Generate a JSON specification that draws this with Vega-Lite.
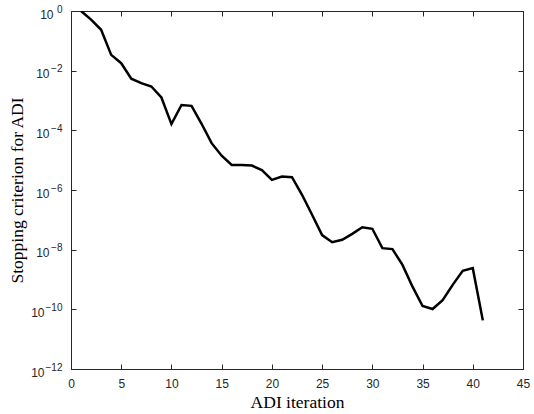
{
  "$schema": "https://vega.github.io/schema/vega-lite/v6.json",
  "autosize": "none",
  "width": 452,
  "height": 358,
  "padding": {"left": 71, "top": 11, "right": 11, "bottom": 45},
  "background": "white",
  "config": {
    "view": {"stroke": "#262626", "strokeWidth": 1},
    "axis": {
      "grid": false,
      "domain": false,
      "tickColor": "#262626",
      "tickSize": 5,
      "tickWidth": 1,
      "offset": -5,
      "labelFont": "Liberation Sans",
      "labelFontSize": 12,
      "labelColor": "#262626",
      "titleFont": "Liberation Serif",
      "titleFontSize": 17.5,
      "titleFontWeight": "normal",
      "titleColor": "#000000"
    }
  },
  "data": {
    "values": [
      {"it": 1, "v": -0.0},
      {"it": 2, "v": -0.29},
      {"it": 3, "v": -0.63},
      {"it": 4, "v": -1.47},
      {"it": 5, "v": -1.75},
      {"it": 6, "v": -2.27},
      {"it": 7, "v": -2.42},
      {"it": 8, "v": -2.53},
      {"it": 9, "v": -2.9},
      {"it": 10, "v": -3.79},
      {"it": 11, "v": -3.15},
      {"it": 12, "v": -3.18},
      {"it": 13, "v": -3.78},
      {"it": 14, "v": -4.43},
      {"it": 15, "v": -4.85},
      {"it": 16, "v": -5.16},
      {"it": 17, "v": -5.16},
      {"it": 18, "v": -5.18},
      {"it": 19, "v": -5.33},
      {"it": 20, "v": -5.66},
      {"it": 21, "v": -5.55},
      {"it": 22, "v": -5.57},
      {"it": 23, "v": -6.16},
      {"it": 24, "v": -6.83},
      {"it": 25, "v": -7.51},
      {"it": 26, "v": -7.75},
      {"it": 27, "v": -7.67},
      {"it": 28, "v": -7.47},
      {"it": 29, "v": -7.25},
      {"it": 30, "v": -7.3},
      {"it": 31, "v": -7.95},
      {"it": 32, "v": -7.98},
      {"it": 33, "v": -8.51},
      {"it": 34, "v": -9.24},
      {"it": 35, "v": -9.89},
      {"it": 36, "v": -9.99},
      {"it": 37, "v": -9.69},
      {"it": 38, "v": -9.18},
      {"it": 39, "v": -8.71},
      {"it": 40, "v": -8.62},
      {"it": 41, "v": -10.37}
    ]
  },
  "transform": [{"calculate": "pow(10, datum.v)", "as": "val"}],
  "encoding": {
    "x": {"field": "it", "type": "quantitative", "scale": {"domain": [0, 45], "nice": false, "zero": false}},
    "y": {"field": "val", "type": "quantitative", "scale": {"type": "log", "domain": [1e-12, 1], "nice": false}}
  },
  "layer": [
    {
      "mark": {"type": "line", "color": "#000000", "strokeWidth": 2.5, "strokeJoin": "miter", "clip": true},
      "encoding": {
        "x": {
          "field": "it", "type": "quantitative",
          "axis": {"orient": "bottom", "values": [0, 5, 10, 15, 20, 25, 30, 35, 40, 45], "title": "ADI iteration", "labelPadding": 9, "titlePadding": 4, "labelFlush": false}
        },
        "y": {
          "field": "val", "type": "quantitative",
          "axis": {
            "orient": "left",
            "values": [1e-12, 1e-10, 1e-8, 1e-6, 1e-4, 1e-2, 1],
            "title": null,
            "labelPadding": 9,
            "labelFontSize": 10,
            "labelOffset": -2,
            "labelFlush": false,
            "labelExpr": "format(round(log(datum.value)/LN10), 'd')"
          }
        }
      }
    },
    {
      "mark": {"type": "line", "opacity": 0},
      "encoding": {
        "x": {
          "field": "it", "type": "quantitative",
          "axis": {"orient": "top", "values": [0, 5, 10, 15, 20, 25, 30, 35, 40, 45], "labels": false, "title": null}
        },
        "y": {
          "field": "val", "type": "quantitative",
          "axis": {"orient": "right", "values": [1e-12, 1e-10, 1e-8, 1e-6, 1e-4, 1e-2, 1], "labels": false, "title": null}
        }
      }
    },
    {
      "mark": {"type": "line", "opacity": 0},
      "encoding": {
        "x": {"field": "it", "type": "quantitative", "axis": null},
        "y": {
          "field": "val", "type": "quantitative",
          "axis": {
            "orient": "left", "offset": 0, "values": [1], "ticks": false, "title": null,
            "labelPadding": 18, "labelOffset": 3, "labelFlush": false, "labelExpr": "'10'"
          }
        }
      }
    },
    {
      "mark": {"type": "line", "opacity": 0},
      "encoding": {
        "x": {"field": "it", "type": "quantitative", "axis": null},
        "y": {
          "field": "val", "type": "quantitative",
          "axis": {
            "orient": "left", "offset": 0, "values": [1e-8, 1e-6, 1e-4, 1e-2], "ticks": false, "title": null,
            "labelPadding": 22, "labelOffset": 3, "labelFlush": false, "labelExpr": "'10'"
          }
        }
      }
    },
    {
      "mark": {"type": "line", "opacity": 0},
      "encoding": {
        "x": {"field": "it", "type": "quantitative", "axis": null},
        "y": {
          "field": "val", "type": "quantitative",
          "axis": {
            "orient": "left", "offset": 0, "values": [1e-12, 1e-10], "ticks": false,
            "title": "Stopping criterion for ADI", "titlePadding": 4,
            "labelPadding": 27, "labelOffset": 3, "labelFlush": false, "labelExpr": "'10'"
          }
        }
      }
    }
  ],
  "resolve": {"axis": {"x": "independent", "y": "independent"}}
}
